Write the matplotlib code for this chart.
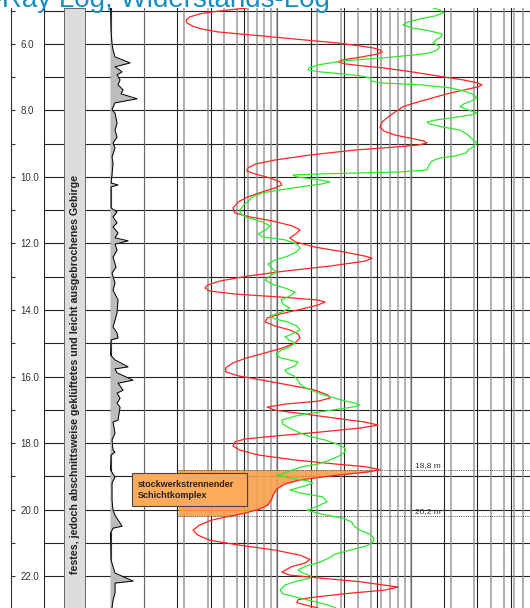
import matplotlib
matplotlib.use("Agg")
import matplotlib.pyplot as plt
import numpy as np
from matplotlib.patches import Rectangle
from matplotlib.ticker import LogLocator, NullFormatter

plt.rcParams['font.family'] = ['Liberation Sans', 'DejaVu Sans']

# depth in m, gamma in API
gamma_depth = [4.92, 5.58, 6.0, 6.18, 6.39, 6.57, 6.69, 6.84, 6.93, 7.08, 7.23, 7.38, 7.50, 7.65, 7.77,
               7.98, 8.08, 8.38, 8.59, 8.80, 8.98, 9.13, 9.40, 9.58, 9.94, 10.18, 10.24, 10.30, 10.93,
               11.05, 11.20, 11.38, 11.50, 11.68, 11.83, 11.92, 12.02, 12.20, 12.41, 12.71, 12.89,
               13.19, 13.40, 13.70, 14.09, 14.30, 14.51, 14.69, 14.84, 14.90, 15.35, 15.50, 15.71,
               15.77, 15.89, 16.11, 16.20, 16.41, 16.50, 16.65, 16.80, 16.92, 17.31, 17.37, 17.70,
               17.91, 18.21, 18.27, 18.36, 18.81, 19.02, 19.20, 19.71, 20.02, 20.17, 20.50, 20.56,
               20.71, 21.52, 21.91, 22.15, 22.21, 22.51, 22.72, 22.96]
gamma_api = [1.5, 3, 6, 9, 15, 60, 15, 36, 21, 30, 24, 39, 33, 81, 15,
             6, 15, 21, 15, 21, 9, 15, 6, 9, 6, 3, 24, 3, 3,
             21, 9, 21, 9, 24, 15, 54, 15, 21, 9, 18, 6,
             15, 9, 24, 21, 15, 9, 21, 24, 3, 1.5, 15, 54,
             15, 21, 69, 24, 39, 21, 30, 21, 30, 24, 9, 15,
             6, 9, 15, 3, 1.5, 15, 6, 6, 9, 15, 36, 9,
             1.5, 3, 15, 69, 15, 15, 9, 6]

# resistivity (red), Ohm m
red_depth = [4.92, 4.98, 5.04, 5.10, 5.19, 5.28, 5.37, 5.46, 5.55, 5.64, 5.70, 5.76, 5.82, 5.88, 5.97,
             6.06, 6.12, 6.18, 6.24, 6.30, 6.39, 6.48, 6.54, 6.60, 6.66, 6.72, 6.84, 6.99, 7.08, 7.17,
             7.23, 7.29, 7.38, 7.50, 7.62, 7.77, 7.89, 8.05, 8.20, 8.35, 8.50, 8.62, 8.74, 8.83, 8.92,
             8.98, 9.04, 9.10, 9.19, 9.34, 9.49, 9.61, 9.73, 9.82, 9.91, 10.03, 10.15, 10.24, 10.33,
             10.45, 10.60, 10.75, 10.93, 11.08, 11.20, 11.32, 11.47, 11.59, 11.71, 11.83, 11.95,
             12.11, 12.26, 12.38, 12.44, 12.53, 12.68, 12.83, 12.98, 13.13, 13.25, 13.34, 13.43,
             13.52, 13.61, 13.70, 13.76, 13.85, 13.97, 14.12, 14.24, 14.36, 14.48, 14.60, 14.72,
             14.84, 14.99, 15.14, 15.29, 15.44, 15.59, 15.74, 15.86, 15.98, 16.11, 16.26, 16.41,
             16.56, 16.65, 16.74, 16.83, 16.92, 17.01, 17.13, 17.25, 17.37, 17.46, 17.55, 17.67,
             17.79, 17.88, 17.97, 18.09, 18.21, 18.36, 18.51, 18.63, 18.71, 18.80, 18.87, 18.99,
             19.11, 19.23, 19.38, 19.56, 19.71, 19.86, 19.98, 20.11, 20.20, 20.32, 20.47, 20.62,
             20.77, 20.92, 21.07, 21.22, 21.37, 21.50, 21.61, 21.71, 21.88, 21.97, 22.06, 22.17,
             22.33, 22.42, 22.53, 22.65, 22.71, 22.80, 22.89, 22.96]
red_ohm = [59, 43, 32, 26, 22, 20.7, 21, 23, 27, 36, 52, 77, 110, 161, 280,
           417, 522, 589, 610, 569, 432, 311, 285, 322, 432, 620, 1023, 1748, 2470, 3145,
           3428, 3199, 2555, 1873, 1471, 1078, 876, 763, 676, 610, 589, 631, 763, 989, 1259,
           1326, 1135, 763, 382, 176, 96, 69, 60, 59, 68, 88, 105, 108, 96,
           77, 60, 51, 46.5, 48, 62, 91, 129, 148, 138, 124, 136,
           192, 322, 455, 513, 455, 248, 114, 60, 37, 30, 28.7, 31,
           48, 105, 202, 228, 202, 153, 105, 84, 81, 96, 124, 143,
           148, 136, 110, 81, 59, 46.5, 41, 41, 51, 77, 124, 192,
           240, 248, 202, 114, 84, 96, 161, 271, 455, 569, 417, 209,
           96, 57, 48, 46.5, 52, 72, 136, 271, 455, 589, 479, 248,
           148, 114, 99, 93, 90, 85, 74, 57, 44, 32, 26, 23.3,
           25.4, 31, 52, 96, 148, 176, 161, 129, 108, 124, 209, 417,
           803, 642, 322, 176, 143, 140, 170, 202]

# second resistivity curve (green), Ohm m
green_depth = [4.92, 4.98, 5.07, 5.16, 5.25, 5.34, 5.43, 5.52, 5.61, 5.70, 5.79, 5.88, 5.97, 6.03,
               6.09, 6.18, 6.27, 6.33, 6.42, 6.48, 6.54, 6.63, 6.72, 6.78, 6.84, 6.90, 6.96, 7.02,
               7.11, 7.17, 7.23, 7.32, 7.41, 7.50, 7.62, 7.71, 7.80, 7.89, 7.98, 8.08, 8.14, 8.23,
               8.29, 8.35, 8.41, 8.50, 8.59, 8.71, 8.83, 8.98, 9.10, 9.19, 9.28, 9.37, 9.43, 9.52,
               9.64, 9.79, 9.85, 9.91, 9.94, 10.00, 10.09, 10.15, 10.21, 10.30, 10.39, 10.48, 10.60,
               10.69, 10.84, 10.99, 11.11, 11.23, 11.35, 11.47, 11.59, 11.71, 11.80, 11.89, 12.02,
               12.14, 12.26, 12.38, 12.50, 12.62, 12.74, 12.86, 12.98, 13.10, 13.22, 13.34, 13.46,
               13.58, 13.70, 13.82, 13.94, 14.06, 14.18, 14.27, 14.36, 14.48, 14.60, 14.72, 14.81,
               14.90, 14.99, 15.11, 15.20, 15.32, 15.44, 15.56, 15.68, 15.80, 15.89, 15.98, 16.11,
               16.23, 16.35, 16.47, 16.59, 16.71, 16.80, 16.86, 16.92, 17.01, 17.10, 17.19, 17.31,
               17.43, 17.55, 17.67, 17.79, 17.91, 18.03, 18.15, 18.27, 18.39, 18.51, 18.63, 18.71,
               18.81, 18.90, 18.96, 19.05, 19.14, 19.20, 19.29, 19.41, 19.50, 19.62, 19.77, 19.89,
               20.02, 20.14, 20.26, 20.38, 20.50, 20.62, 20.74, 20.86, 20.98, 21.10, 21.22, 21.34,
               21.47, 21.58, 21.71, 21.82, 21.91, 22.00, 22.06, 22.15, 22.27, 22.42, 22.53, 22.65,
               22.77, 22.89, 22.96]
green_ohm = [1471, 1660, 1748, 1522, 1175, 955, 876, 1023, 1396, 1718, 1690, 1549, 1471, 1576,
             1660, 1576, 1396, 1078, 620, 382, 280, 202, 173, 170, 209, 305, 417, 495,
             503, 589, 1175, 1972, 2470, 2884, 3145, 2884, 2512, 2344, 2692, 3145, 2786, 1972,
             1522, 1326, 1396, 1748, 2344, 2645, 2835, 3145, 2935, 2692, 2600, 2150, 1660, 1445,
             1372, 1326, 832, 209, 131, 140, 209, 248, 216, 148, 105, 77, 65,
             62, 56, 52.5, 53, 60, 77, 88, 82, 72, 77, 114, 140,
             148, 138, 120, 96, 85, 91, 98, 88, 81, 91, 114, 136,
             124, 107, 110, 124, 108, 88, 96, 120, 140, 148, 129, 114,
             122, 136, 124, 108, 98, 105, 143, 136, 114, 118, 133, 143,
             148, 164, 195, 240, 305, 382, 417, 363, 257, 182, 136, 108,
             110, 124, 143, 170, 228, 280, 322, 322, 290, 248, 202, 156,
             129, 114, 99, 124, 170, 185, 161, 124, 148, 220, 236, 202,
             167, 216, 311, 363, 376, 417, 495, 531, 522, 462, 351, 271,
             240, 209, 161, 143, 156, 179, 176, 140, 114, 105, 110, 143,
             192, 248, 275]

lith_text = "festes, jedoch abschnittsweise geklüftetes und leicht ausgebrochenes Gebirge"
zone_text = "stockwerkstrennender\nSchichtkomplex"
zone_top, zone_bot = 18.8, 20.2

W, H = 530, 608
fig = plt.figure(figsize=(W / 100, H / 100), dpi=100)
d_top, d_bot = 4.92, 22.96


def px_axes(x0, x1, y0=8, y1=608):
    a = fig.add_axes([x0 / W, 1 - y1 / H, (x1 - x0) / W, (y1 - y0) / H])
    a.set_ylim(d_bot, d_top)
    return a


# square grid, 1 m
ax = px_axes(44, 530)
ax.set_xlim(0, 486 / 33.33)
ax.set_xticks(np.arange(0, 15))
ax.set_yticks(np.arange(5, 23))
ax.grid(True, color='#222222', lw=0.8)
ax.tick_params(length=0, labelbottom=False, labelleft=False)
for s in ax.spines.values():
    s.set_visible(False)

# depth axis
axd = px_axes(11, 44)
axd.patch.set_alpha(0)
for k in ['top', 'right', 'bottom']:
    axd.spines[k].set_visible(False)
axd.spines['left'].set_color('#333333')
axd.spines['left'].set_linewidth(0.8)
axd.set_xticks([])
axd.set_yticks(np.arange(6, 23, 2))
axd.set_yticks(np.arange(5, 23, 2), minor=True)
axd.set_yticklabels([f"{v:.1f}" for v in np.arange(6, 23, 2)])
axd.tick_params(axis='y', which='both', direction='in', length=3, width=0.8, color='#333333')
axd.tick_params(axis='y', which='major', pad=-7, labelsize=7, labelcolor='#333333')
for lab in axd.get_yticklabels():
    lab.set_horizontalalignment('left')

# lithology column
axb = px_axes(64, 85)
axb.set_facecolor('#dddddd')
axb.set_xticks([])
axb.set_yticks([])
for s in axb.spines.values():
    s.set_color('#666666')
    s.set_linewidth(0.7)
axb.text(0.52, 0.39, lith_text, transform=axb.transAxes, rotation=90, ha='center', va='center',
         fontsize=7.7, fontweight='bold', color='#222222')

# gamma track
axg = px_axes(110, 177)
axg.patch.set_alpha(0)
axg.set_xlim(0, 200)
axg.axis('off')
axg.fill_betweenx(gamma_depth, 0, gamma_api, color='#bcbcbc', lw=0)
axg.plot(gamma_api, gamma_depth, color='black', lw=0.7)

# resistivity track (log)
axr = px_axes(144, 544)
axr.patch.set_alpha(0)
axr.set_xscale('log')
axr.set_xlim(10, 10000)
axr.xaxis.set_major_locator(LogLocator(base=10))
axr.xaxis.set_minor_locator(LogLocator(base=10, subs=np.arange(2, 10)))
axr.xaxis.set_minor_formatter(NullFormatter())
axr.grid(True, which='both', axis='x', color='#8c8c8c', lw=1.2, alpha=0.8)
axr.tick_params(which='both', length=0, labelbottom=False, labelleft=False)
axr.set_yticks([])
for s in axr.spines.values():
    s.set_visible(False)

rd = np.array(red_depth)
rv = np.array(red_ohm)
axr.fill_betweenx(rd, 18, rv, where=(rd >= zone_top) & (rd <= zone_bot),
                  color='#f7a04c', alpha=0.9, lw=0, zorder=2)
axr.hlines([zone_top, zone_bot], 18, 10000, colors='#333333', linestyles=(0, (1, 1.2)), lw=0.6, zorder=3)
axr.text(1080, zone_top - 0.03, "18,8 m", fontsize=6, color='#333333', va='bottom', zorder=4)
axr.text(1080, zone_bot - 0.03, "20,2 m", fontsize=6, color='#333333', va='bottom', zorder=4)
axr.plot(red_ohm, red_depth, color='#ff2424', lw=0.9, zorder=5)
axr.plot(green_ohm, green_depth, color='#2ee82e', lw=0.9, zorder=5)

# annotation box on top
axt = px_axes(44, 530)
axt.set_xlim(0, 486 / 33.33)
axt.axis('off')
axt.add_patch(Rectangle((88 / 33.33, 18.90), 115 / 33.33, 0.99, facecolor='#fdab5a',
                        edgecolor='#444444', lw=0.8, zorder=5))
axt.text(94 / 33.33, 19.40, zone_text, fontsize=6.5, fontweight='bold', color='#222222',
         va='center', ha='left', linespacing=1.3, zorder=6)

fig.text(330 / W, 1 - 7 / H, "Gamma-Ray Log, Widerstands-Log", ha='right', va='baseline',
         fontsize=20, color='#1a8cc0')

fig.savefig('out.png', dpi=100)
